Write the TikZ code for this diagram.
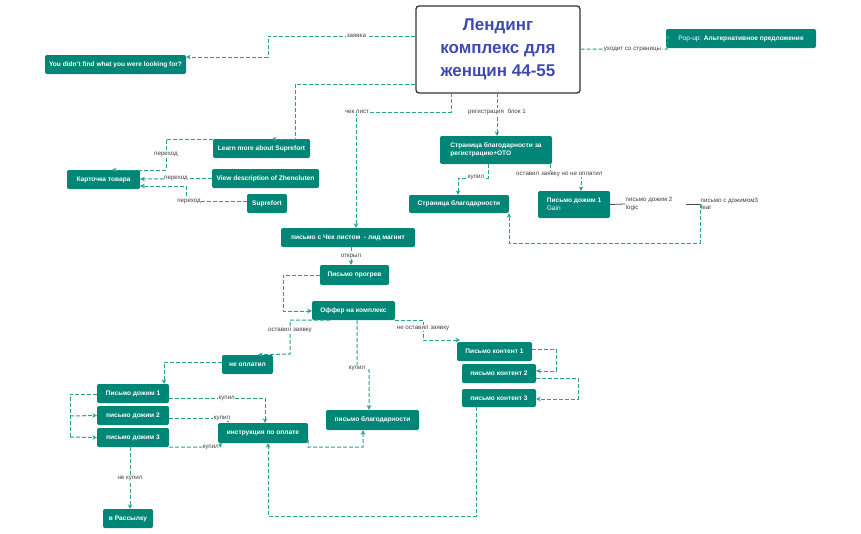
\documentclass[tikz,border=0pt]{standalone}
\usepackage{fontspec}
\setmainfont{Liberation Sans}
\usetikzlibrary{arrows.meta}
\definecolor{tl}{RGB}{0,134,118}
\definecolor{ln}{RGB}{38,160,145}
\definecolor{tt}{RGB}{63,74,176}
\begin{document}
\begin{tikzpicture}[x=1pt,y=-1pt,
 box/.style={fill=tl,rounded corners=2pt,text=white,font=\bfseries\fontsize{6.6}{8}\selectfont,inner sep=0pt,align=left},
 e/.style={draw=ln,dashed,dash pattern=on 4pt off 2pt,line width=1pt,-{Stealth[length=4.5pt,width=4.5pt]}},
 en/.style={draw=ln,dashed,dash pattern=on 4pt off 2pt,line width=1pt},
 lb/.style={fill=white,inner sep=0.5pt,text=black!75,font=\fontsize{6.2}{7.2}\selectfont,align=left}]
\useasboundingbox (0,0) rectangle (861,533);
\newcommand{\bx}[6]{\node[box,minimum width=#4-#2,minimum height=#5-#3,anchor=center] (#1) at ({(#2+#4)/2},{(#3+#5)/2}) {#6};}
\node[draw=black!80,line width=1.3pt,rounded corners=3pt,minimum width=164,minimum height=87,align=center,text=tt,font=\bfseries\fontsize{17}{23}\selectfont] (main) at (498,49.5) {Лендинг\\комплекс для\\женщин 44-55};
\bx{ydf}{45}{55}{186}{74}{You didn't find what you were looking for?}
\bx{pop}{666}{29}{816}{48}{\mdseries Pop-up: \bfseries Альтернативное предложение}
\bx{learn}{213}{139}{310}{158}{Learn more about Suprefort}
\bx{card}{67}{170}{140}{189}{Карточка товара}
\bx{view}{212}{169}{319}{188}{View description of Zhenoluten}
\bx{sup}{247}{194}{287}{213}{Suprefort}
\bx{chek}{281}{228}{415}{247}{письмо с Чек листом \ - лид магнит}
\bx{treg}{440}{136}{552}{164}{Страница благодарности за\\регистрацию+ОТО}
\bx{thank}{409}{195}{509}{213}{Страница благодарности}
\bx{gain}{538}{191}{610}{218}{Письмо дожим 1\\\mdseries Gain}
\bx{prog}{320}{265}{389}{285}{Письмо прогрев}
\bx{offer}{312}{301}{395}{320}{Оффер на комплекс}
\bx{neo}{222}{355}{273}{374}{не оплатил}
\bx{pd1}{97}{384}{169}{403}{Письмо дожим 1}
\bx{pd2}{97}{406}{169}{425}{письмо дожим 2}
\bx{pd3}{97}{428}{169}{447}{письмо дожим 3}
\bx{instr}{218}{423}{308}{443}{инструкция по оплате}
\bx{blag}{326}{410}{419}{430}{письмо благодарности}
\bx{pk1}{457}{342}{532}{361}{Письмо контент 1}
\bx{pk2}{462}{364}{536}{383}{письмо контент 2}
\bx{pk3}{462}{389}{536}{407}{письмо контент 3}
\bx{ras}{103}{509}{153}{528}{в Рассылку}
% edges
\draw[e] (main.west|-0,36) -- node[lb,pos=0.4]{заявка} (268,36) -- (268,57) -- (ydf.east|-0,57);
\draw[e] (main.west|-0,84) -- (295,84) -- (295,139) -- (272,139);
\draw[e] (451,93) -- (451,112) -- node[lb,pos=0.99]{чек лист} (356,112) -- (chek.north-|356,0);
\draw[e] (497,93) -- node[lb,pos=0.43]{регистрация\ \ блок 1} (treg.north-|497,0);
\draw[e] (main.east|-0,49) -- node[lb,pos=0.6]{уходит со страницы} (667,49) -- (667,38) -- (pop.west);
\draw[e] (learn.west|-0,139) -- (166,139) -- node[lb]{переход} (166,170) -- (112,170);
\draw[e] (view.west) -- node[lb]{переход} (card.east|-0,179);
\draw[e] (sup.west|-0,201) -- node[lb,pos=0.95]{переход} (186,201) -- (186,186) -- (card.east|-0,186);
\draw[e] (488,164) -- (488,178) -- node[lb,pos=0.4]{купил} (458,178) -- (thank.north-|458,0);
\draw[e] (550,164) -- (550,174) -- node[lb,pos=0.3]{оставил заявку но не оплатил} (581,174) -- (gain.north-|581,0);
\coordinate (g2) at (625,204); \coordinate (g3) at (700,204);
\draw[black!70,line width=0.8pt] (gain.east) -- (g2);
\node[lb,anchor=west] (t2) at (g2) {письмо дожим 2\\logic};
\draw[black!70,line width=0.8pt] (686,204) -- (g3);
\node[lb,anchor=west] (t3) at (g3) {письмо с дожимом3\\fear};
\draw[e] (g3) -- (700,243) -- (509,243) -- (thank.south-|509,0);
\draw[e] (chek.south-|351,0) -- node[lb]{открыл} (prog.north-|351,0);
\draw[e] (prog.west) -- (283,275) -- (283,311) -- (offer.west|-0,311);
\draw[e] (330,320) -- (290,320) -- node[lb,pos=0.3]{оставил заявку} (290,354) -- (neo.north-|258,0);
\draw[e] (395,320) -- (423,320) -- node[lb,pos=0.4]{не оставил заявку} (423,340) -- (460,340);
\draw[e] (357,320) -- node[lb,pos=0.98]{купил} (357,369) -- (369,370) -- (blag.north-|369,0);
\draw[e] (neo.west|-0,362) -- (164,362) -- (pd1.north-|164,0);
\draw[en] (pd1.west|-0,394) -- (70,394) -- (70,437);
\draw[e] (70,416) -- (pd2.west);
\draw[e] (70,437) -- (pd3.west);
\draw[e] (pd1.east|-0,398) -- node[lb,pos=0.6]{купил} (265,398) -- (instr.north-|265,0);
\draw[e] (pd2.east|-0,418) -- node[lb,pos=0.9]{купил} (228,418) -- (instr.north-|228,0);
\draw[e] (pd3.east|-0,447) -- node[lb,pos=0.85]{купил} (218,447) -- (222,443);
\draw[e] (instr.east|-0,440) -- (308,447) -- (363,447) -- (blag.south-|363,0);
\draw[e] (pk1.east|-0,349) -- (556,349) -- (556,371) -- (pk2.east|-0,371);
\draw[e] (pk2.east|-0,378) -- (578,378) -- (578,399) -- (pk3.east|-0,399);
\draw[e] (pk3.south-|476,0) -- (476,516) -- (268,516) -- (instr.south-|268,0);
\draw[e] (pd3.south-|130,0) -- node[lb]{не купил} (ras.north-|130,0);
\end{tikzpicture}
\end{document}
